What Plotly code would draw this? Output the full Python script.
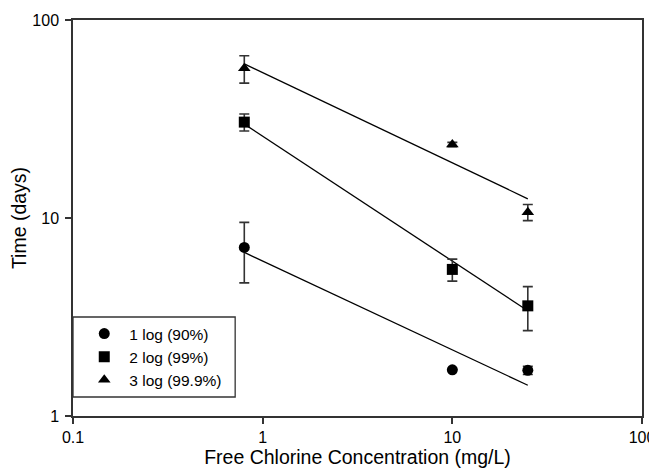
import plotly.graph_objects as go

# Data
conc = [0.8, 10, 25]

log1_time = [7.1, 1.71, 1.7]
log1_err = [2.4, 0.0, 0.08]

log2_time = [30.5, 5.5, 3.6]
log2_err = [3.0, 0.7, 0.9]

log3_time = [57, 23.5, 10.7]
log3_err = [9.0, 0.6, 1.0]

fit_x = [0.8, 25]
fit1_y = [6.7, 1.43]
fit2_y = [29.8, 3.4]
fit3_y = [60.0, 12.5]

names = ["1 log (90%)", "2 log (99%)", "3 log (99.9%)"]
x_ticks = [0.1, 1, 10, 100]
x_ticktext = ["0.1", "1", "10", "100"]
y_ticks = [1, 10, 100]
y_ticktext = ["1", "10", "100"]

FONT = "Liberation Sans, Arial, sans-serif"

fig = go.Figure()

for fy in [fit1_y, fit2_y, fit3_y]:
    fig.add_trace(go.Scatter(x=fit_x, y=fy, mode="lines",
                             line=dict(color="black", width=1.3),
                             showlegend=False, hoverinfo="skip"))

symbols = ["circle", "square", "triangle-up"]
for ys, es, nm, sym in zip([log1_time, log2_time, log3_time],
                           [log1_err, log2_err, log3_err], names, symbols):
    fig.add_trace(go.Scatter(
        x=conc, y=ys, mode="markers", name=nm,
        marker=dict(symbol=sym, size=11, color="black"),
        error_y=dict(type="data", array=es, visible=True,
                     color="#333333", thickness=1.6, width=5),
    ))

# legend frame
fig.add_shape(type="rect", xref="paper", yref="paper",
              x0=0, x1=0.285, y0=0.048, y1=0.25,
              line=dict(color="#333333", width=1.3), fillcolor="white", layer="above")

# page body has an 8px margin, so the figure is sized to fill the rest of the window
fig.update_layout(
    width=649, height=461,
    margin=dict(l=65, r=15, t=12, b=53, autoexpand=False),
    paper_bgcolor="white", plot_bgcolor="white",
    font=dict(family=FONT, size=16, color="black"),
    legend=dict(x=0.011, y=0.149, xanchor="left", yanchor="middle",
                borderwidth=0, bgcolor="rgba(0,0,0,0)",
                font=dict(size=15.5), itemwidth=40, tracegroupgap=0),
)
fig.update_xaxes(type="log", range=[-1, 2], tickvals=x_ticks, ticktext=x_ticktext,
                 showgrid=False, zeroline=False, showline=True, linecolor="#333333",
                 linewidth=1.5, mirror=True, ticks="outside", ticklen=6,
                 tickcolor="#333333", tickwidth=1.5, tickfont=dict(size=16),
                 automargin=False,
                 title=dict(text="Free Chlorine Concentration (mg/L)", font=dict(size=19.5), standoff=3))
fig.update_yaxes(type="log", range=[0, 2], tickvals=y_ticks, ticktext=y_ticktext,
                 showgrid=False, zeroline=False, showline=True, linecolor="#333333",
                 linewidth=1.5, mirror=True, ticks="outside", ticklen=6,
                 tickcolor="#333333", tickwidth=1.5, tickfont=dict(size=16),
                 ticklabelstandoff=3, automargin=True,
                 title=dict(text="Time (days)", font=dict(size=19.5), standoff=6))

fig.write_html("out.html")
